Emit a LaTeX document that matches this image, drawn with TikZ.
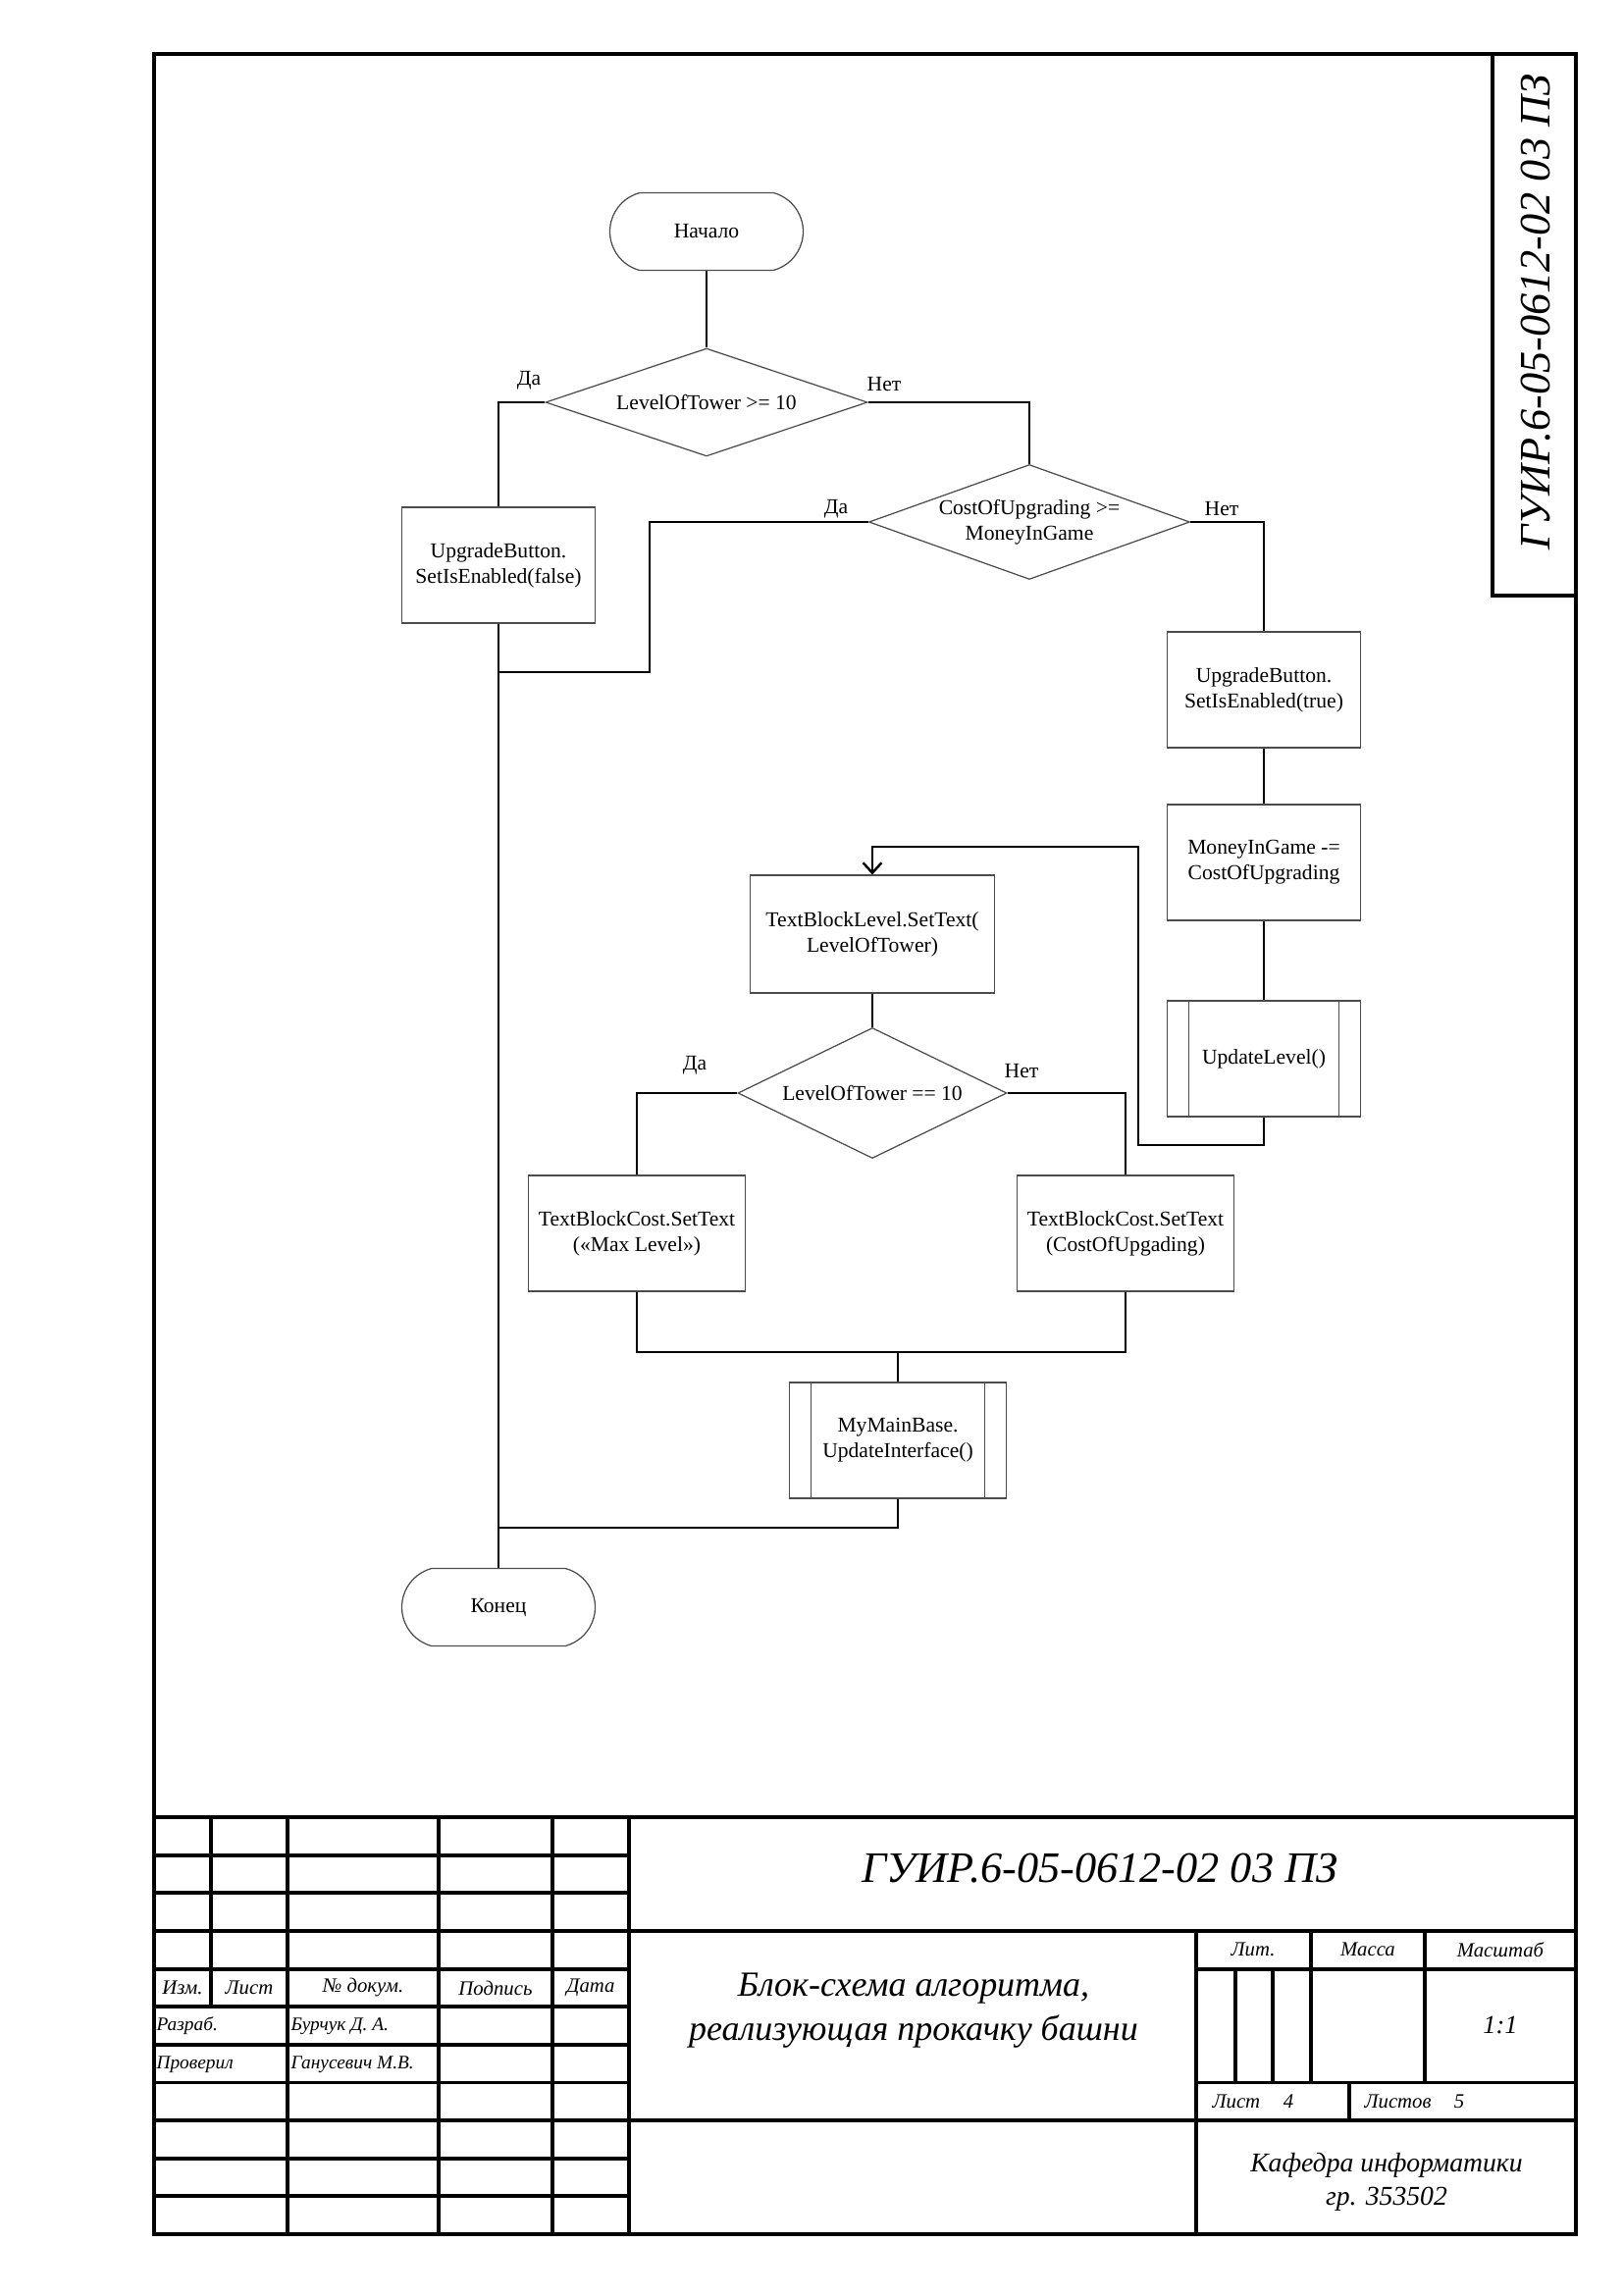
\documentclass[tikz,border=0pt]{standalone}
\usepackage{fontspec}
\setmainfont{Liberation Serif}
\usetikzlibrary{shapes.geometric,shapes.misc,arrows.meta}

% one drawing unit = one pixel of a 1654 x 2339 sheet (A4)
\def\PX{0.12697mm}
\newcommand\FlowFont{\fontsize{7.8}{9.4}\selectfont}
\newcommand\StampFont[1]{\fontsize{#1}{#1}\selectfont\itshape}

\begin{document}
\begin{tikzpicture}[x=\PX,y=-\PX,
  frameline/.style={line width=1.4pt},
  link/.style={line width=0.9pt},
  outline/.style={draw=black!70,line width=0.45pt},
  proc/.style={rectangle,outline,inner sep=1pt,align=center,font=\FlowFont,
    minimum width=197*\PX,minimum height=118*\PX},
  sub/.style={proc,path picture={
    \draw[black!70,line width=0.45pt]
      ([xshift=22*\PX]path picture bounding box.north west) -- ([xshift=22*\PX]path picture bounding box.south west)
      ([xshift=-22*\PX]path picture bounding box.north east) -- ([xshift=-22*\PX]path picture bounding box.south east);}},
  term/.style={rounded rectangle,rounded rectangle arc length=150,outline,inner sep=0pt,
    font=\FlowFont,minimum width=197*\PX,minimum height=79*\PX},
  dec/.style={diamond,outline,inner sep=0pt},
  yn/.style={font=\FlowFont,inner sep=0pt},
  st/.style={font=\StampFont{7.5},inner sep=0pt},
  arrow/.style={link,-{Straight Barb[length=1.3mm,width=2.4mm]}}
]
\useasboundingbox (0,0) rectangle (1654,2339);

% ---------- sheet frame ----------
\draw[frameline] (157,55) rectangle (1606,2277);
\draw[frameline] (1521,55) -- (1521,607) -- (1606,607);
\node[font=\StampFont{16},rotate=90,inner sep=0pt] (sidecode) at (1565,318) {ГУИР.6-05-0612-02 03 ПЗ};

% ---------- flowchart nodes ----------
\node[term] (start) at (720,236) {Начало};
\node[dec,minimum width=328*\PX,minimum height=110*\PX,
  label={[font=\FlowFont]center:LevelOfTower >= 10}] (d1) at (720,410) {};
\node[proc] (bF) at (508,576) {UpgradeButton.\\SetIsEnabled(false)};
\node[dec,minimum width=327*\PX,minimum height=117*\PX,
  label={[font=\FlowFont,align=center]center:{CostOfUpgrading >=\\MoneyInGame}}] (d2) at (1049,532) {};
\node[proc] (bT) at (1288,703) {UpgradeButton.\\SetIsEnabled(true)};
\node[proc] (bM) at (1288,879) {MoneyInGame -=\\CostOfUpgrading};
\node[sub] (bU) at (1288,1079) {UpdateLevel()};
\node[proc,minimum width=249*\PX,minimum height=120*\PX] (bL) at (889,952) {TextBlockLevel.SetText(\\LevelOfTower)};
\node[dec,minimum width=274*\PX,minimum height=133*\PX,
  label={[font=\FlowFont]center:LevelOfTower == 10}] (d3) at (889,1114) {};
\node[proc,minimum width=221*\PX] (bMax) at (649,1257) {TextBlockCost.SetText\\(«Max Level»)};
\node[proc,minimum width=221*\PX] (bCost) at (1147,1257) {TextBlockCost.SetText\\(CostOfUpgading)};
\node[sub,minimum width=221*\PX] (bB) at (915,1468) {MyMainBase.\\UpdateInterface()};
\node[term] (end) at (508,1638) {Конец};

% branch labels
\node[yn] (y1) at (539,388) {Да};
\node[yn] (n1) at (901,392) {Нет};
\node[yn] (y2) at (852,519) {Да};
\node[yn] (n2) at (1245,519) {Нет};
\node[yn] (y3) at (708,1086) {Да};
\node[yn] (n3) at (1041,1092) {Нет};

% bend and junction points
\coordinate (yesTwo) at (662,685);
\coordinate (joinA) at (508,685);
\coordinate (loopA) at (1160,1167);
\coordinate (loopB) at (1160,863);
\coordinate (joinB) at (915,1378);
\coordinate (joinC) at (508,1557);

% ---------- connectors ----------
\draw[link] (start.south) -- (d1.north);
\draw[link] (d1.west) -| (bF.north);
\draw[link] (d1.east) -| (d2.north);
\draw[link] (d2.west) -| (yesTwo) -- (joinA);
\draw[link] (d2.east) -| (bT.north);
\draw[link] (bT.south) -- (bM.north);
\draw[link] (bM.south) -- (bU.north);
\draw[arrow] (bU.south) |- (loopA) -- (loopB) -| (bL.north);
\draw[link] (bL.south) -- (d3.north);
\draw[link] (d3.west) -| (bMax.north);
\draw[link] (d3.east) -| (bCost.north);
\draw[link] (bMax.south) |- (joinB) -| (bCost.south);
\draw[link] (joinB) -- (bB.north);
\draw[link] (bB.south) |- (joinC);
\draw[link] (bF.south) -- (end.north);

% ---------- title block ----------
\draw[frameline] (157,1852) -- (1606,1852);
\foreach \i in {1,...,10}
  \draw[frameline] (157,{1852+\i*38.64}) -- (641,{1852+\i*38.64});
\draw[frameline] (215,1852) -- (215,2045.2);
\foreach \xx in {293,447,563,641}
  \draw[frameline] (\xx,1852) -- (\xx,2277);
\draw[frameline] (641,1967.9) -- (1606,1967.9);
\draw[frameline] (641,2161.1) -- (1606,2161.1);
\draw[frameline] (1219,1967.9) -- (1219,2277);
\draw[frameline] (1219,2006.6) -- (1606,2006.6);
\draw[frameline] (1219,2122.5) -- (1606,2122.5);
\draw[frameline] (1336,1967.9) -- (1336,2122.5);
\draw[frameline] (1452,1967.9) -- (1452,2122.5);
\draw[frameline] (1259,2006.6) -- (1259,2122.5);
\draw[frameline] (1297,2006.6) -- (1297,2122.5);
\draw[frameline] (1375,2122.5) -- (1375,2161.1);

\node[font=\StampFont{16},inner sep=0pt] (code) at (1121,1904) {ГУИР.6-05-0612-02 03 ПЗ};

\node[st] (h1) at (186,2026) {Изм.};
\node[st] (h2) at (254,2026) {Лист};
\node[st] (h3) at (370,2026) {№ докум.};
\node[st] (h4) at (505,2026) {Подпись};
\node[st] (h5) at (602,2026) {Дата};
\node[st,font=\StampFont{7},anchor=west] (r1) at (159,2065) {Разраб.};
\node[st,font=\StampFont{7},anchor=west] (r1n) at (296,2065) {Бурчук Д. А.};
\node[st,font=\StampFont{7},anchor=west] (r2) at (159,2104) {Проверил};
\node[st,font=\StampFont{7},anchor=west] (r2n) at (296,2104) {Ганусевич М.В.};

\node[font=\StampFont{13},inner sep=0pt] (t1) at (931,2027) {Блок-схема алгоритма,};
\node[font=\StampFont{13},inner sep=0pt] (t2) at (931,2070) {реализующая прокачку башни};

\node[st] (lit) at (1277,1987) {Лит.};
\node[st] (mass) at (1394,1987) {Масса};
\node[st] (scale) at (1529,1987) {Масштаб};
\node[font=\StampFont{9.5},inner sep=0pt] (scv) at (1529,2064) {1:1};
\node[st,anchor=west] (sh) at (1235,2142) {Лист};
\node[st] (shv) at (1313,2142) {4};
\node[st,anchor=west] (shs) at (1390,2142) {Листов};
\node[st] (shsv) at (1487,2142) {5};
\node[font=\StampFont{10},inner sep=0pt] (dep) at (1413,2207) {Кафедра информатики};
\node[font=\StampFont{10},inner sep=0pt] (grp) at (1413,2241) {гр. 353502};
\end{tikzpicture}
\end{document}
